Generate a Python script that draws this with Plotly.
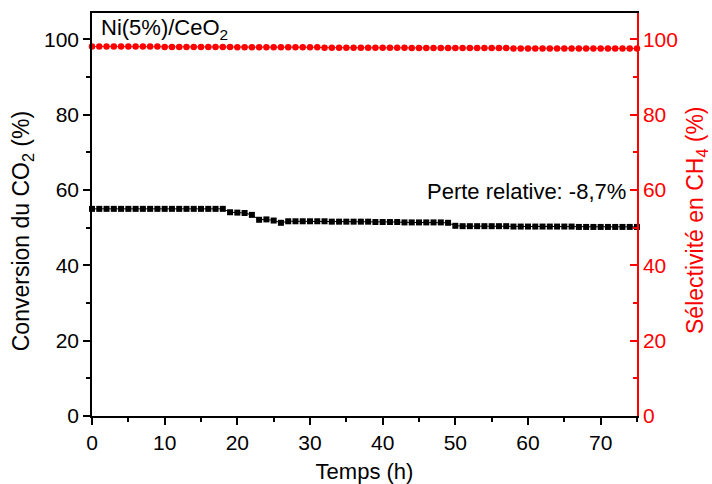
import plotly.graph_objects as go

time_h = list(range(0, 76))

conversion_co2 = [
    55.0, 55.0, 55.0, 55.0, 55.0, 55.0, 55.0, 55.0, 55.0, 55.0,
    55.0, 55.0, 55.0, 55.0, 55.0, 55.0, 55.0, 55.0, 55.0, 54.1,
    54.0, 53.9, 53.4, 52.1, 52.2, 51.9, 51.3, 51.7, 51.7, 51.7,
    51.7, 51.7, 51.7, 51.6, 51.6, 51.6, 51.6, 51.6, 51.6, 51.5,
    51.5, 51.5, 51.5, 51.4, 51.4, 51.4, 51.4, 51.4, 51.4, 51.3,
    50.5, 50.4, 50.4, 50.4, 50.4, 50.4, 50.4, 50.4, 50.3, 50.3,
    50.3, 50.3, 50.3, 50.3, 50.3, 50.3, 50.3, 50.2, 50.2, 50.2,
    50.2, 50.2, 50.2, 50.2, 50.2, 50.2,
]

selectivite_ch4 = [
    98.1, 98.1, 98.1, 98.1, 98.1, 98.1, 98.1, 98.1, 98.1, 98.1,
    98.0, 98.0, 98.0, 98.0, 98.0, 98.0, 98.0, 98.0, 98.0, 98.0,
    97.9, 97.9, 97.9, 97.9, 97.9, 97.9, 97.9, 97.9, 97.9, 97.9,
    97.9, 97.9, 97.8, 97.8, 97.8, 97.8, 97.8, 97.8, 97.8, 97.8,
    97.8, 97.8, 97.8, 97.8, 97.7, 97.7, 97.7, 97.7, 97.7, 97.7,
    97.7, 97.7, 97.7, 97.7, 97.7, 97.7, 97.7, 97.7, 97.6, 97.6,
    97.6, 97.6, 97.6, 97.6, 97.6, 97.6, 97.6, 97.6, 97.6, 97.6,
    97.6, 97.6, 97.6, 97.6, 97.6, 97.6,
]

FONT = "Liberation Sans, Arial, sans-serif"
RED = "#ff0000"
FS = 21
FT = 22

fig = go.Figure()
fig.add_trace(go.Scatter(
    x=time_h, y=conversion_co2, mode="lines+markers",
    line=dict(color="black", width=1),
    marker=dict(symbol="square", size=6, color="black"),
    yaxis="y", showlegend=False, cliponaxis=False,
))
fig.add_trace(go.Scatter(
    x=time_h, y=selectivite_ch4, mode="lines+markers",
    line=dict(color=RED, width=1),
    marker=dict(symbol="circle", size=6.5, color=RED),
    yaxis="y2", showlegend=False, cliponaxis=False,
))

fig.update_layout(
    width=712, height=484,
    margin=dict(l=92, r=75, t=13, b=68, autoexpand=False),
    plot_bgcolor="white", paper_bgcolor="white",
    font=dict(family=FONT, size=FS, color="black"),
    xaxis=dict(
        range=[0, 75], dtick=10, tick0=0, automargin=False,
        showline=True, linecolor="black", linewidth=1.5, mirror=True,
        ticks="outside", ticklen=7, tickwidth=1.5, tickcolor="black",
        minor=dict(dtick=5, ticks="outside", ticklen=4, tickcolor="black", tickwidth=1.5),
        showgrid=False, zeroline=False,
        title=dict(text="Temps (h)", font=dict(size=FT), standoff=20),
        tickfont=dict(size=FS),
    ),
    yaxis=dict(
        range=[0, 107], dtick=20, tick0=0, automargin=False,
        showline=True, linecolor="black", linewidth=1.5,
        ticks="outside", ticklen=7, tickwidth=1.5, tickcolor="black",
        minor=dict(dtick=10, ticks="outside", ticklen=4, tickcolor="black", tickwidth=1.5),
        showgrid=False, zeroline=False,
        tickfont=dict(size=FS),
    ),
    yaxis2=dict(
        range=[0, 107], dtick=20, tick0=0, overlaying="y", side="right", automargin=False,
        showline=True, linecolor=RED, linewidth=1.5,
        ticks="inside", ticklen=7, tickwidth=1.5, tickcolor=RED,
        minor=dict(dtick=10, ticks="inside", ticklen=4, tickcolor=RED, tickwidth=1.5),
        showgrid=False, zeroline=False,
        tickfont=dict(size=FS, color=RED),
    ),
    annotations=[
        dict(text="Conversion du CO<sub>2</sub> (%)", xref="paper", yref="paper",
             x=-0.128, y=0.459, xanchor="center", yanchor="middle", textangle=-90,
             showarrow=False, font=dict(size=23, color="black")),
        dict(text="Sélectivité en CH<sub>4</sub> (%)", xref="paper", yref="paper",
             x=1.108, y=0.486, xanchor="center", yanchor="middle", textangle=-90,
             showarrow=False, font=dict(size=23, color=RED)),
        dict(text="Ni(5%)/CeO<sub>2</sub>", xref="paper", yref="paper",
             x=0.012, y=1.0, xanchor="left", yanchor="top", showarrow=False,
             font=dict(size=FT, color="black")),
        dict(text="Perte relative: -8,7%", xref="paper", yref="y",
             x=0.984, y=59.5, xanchor="right", yanchor="middle", showarrow=False,
             font=dict(size=FT, color="black")),
    ],
)

fig.write_html("out.html", config={"displayModeBar": False},
               post_script="document.body.style.margin='0';")
